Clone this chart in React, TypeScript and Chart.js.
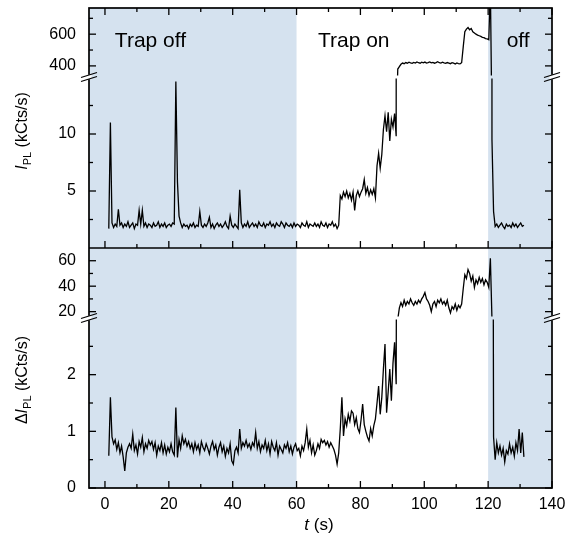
import React, { useEffect, useRef } from "react";
import { Chart, registerables } from "chart.js";

Chart.register(...registerables);

// ---- sampling grid of the traces (s) ----
const T0 = 1.2;
const DT = 0.5;

// ---- I_PL (kCts/s), one value per grid step ----
const iplValues = [
  1.7, 11.0, 2.2, 1.8, 2.1, 1.9, 3.4, 2.0, 2.2, 1.8,
  2.1, 1.9, 2.3, 1.8, 2.0, 2.2, 1.7, 2.1, 2.0, 3.3,
  2.1, 3.3, 1.9, 2.2, 1.8, 2.1, 2.0, 1.8, 2.2, 1.9,
  2.0, 2.3, 1.8, 2.1, 1.9, 2.2, 1.8, 2.0, 2.1, 1.9,
  2.2, 2.1, 14.6, 5.8, 2.8, 2.2, 1.8, 2.1, 1.9, 2.0,
  1.7, 2.1, 1.9, 2.2, 1.8, 2.0, 1.9, 3.2, 2.0, 1.8,
  2.1, 1.9, 2.2, 2.7, 1.8, 2.1, 1.7, 2.0, 2.2, 1.9,
  2.1, 1.8, 2.0, 2.3, 1.9, 1.7, 2.8, 2.0, 1.8, 2.1,
  1.9, 1.7, 5.1, 2.2, 1.8, 2.1, 1.9, 2.3, 1.8, 2.0,
  2.2, 1.9, 2.1, 1.8, 2.3, 2.0, 1.9, 2.2, 1.8, 2.1,
  2.0, 2.3, 1.9, 2.1, 1.8, 2.2, 2.0, 1.9, 2.3, 2.1,
  1.8, 2.2, 2.0, 1.9, 2.1, 1.8, 2.2, 1.9, 2.1, 2.0,
  1.8, 2.2, 2.0, 1.9, 2.3, 1.8, 2.1, 2.0, 1.9, 2.2,
  1.9, 2.1, 1.8, 2.3, 2.0, 1.9, 2.2, 1.8, 2.1, 2.0,
  2.3, 1.9, 2.1, 1.7, 2.0, 4.6, 4.3, 4.9, 4.5, 5.0,
  4.4, 4.8, 4.2, 4.9, 3.3, 4.6, 5.0, 4.5, 4.9, 5.2,
  6.0, 4.8, 5.3, 4.6, 5.1, 4.7, 5.2, 4.4, 7.2, 8.3,
  7.0, 8.2, 10.4, 11.6, 10.2, 11.9, 9.4, 11.3, 10.6, 11.8,
  9.8, 380, 396, 410, 418, 414, 421, 417, 423, 419,
  416, 422, 418, 425, 420, 417, 423, 419, 424, 418,
  421, 425, 419, 422, 417, 421, 426, 420, 418, 423,
  419, 416, 421, 418, 414, 420, 417, 412, 419, 415,
  413, 420, 520, 615, 632, 642, 628, 636, 615, 608,
  600, 594, 590, 586, 580, 578, 572, 570, 565, 900,
  9.5, 3.2, 1.9, 2.1, 1.8, 2.0, 2.2, 1.9, 1.7, 2.1,
  1.9, 2.0, 1.8, 2.2, 1.9, 2.1, 1.8, 2.0, 2.2, 1.9,
  2.0,
];

// ---- ΔI_PL (kCts/s), one value per grid step ----
const dIplValues = [
  0.57, 1.60, 0.90, 0.78, 0.85, 0.68, 0.80, 0.62, 0.74, 0.55,
  0.30, 0.62, 0.72, 0.78, 0.70, 0.95, 0.66, 0.76, 0.60, 0.82,
  0.72, 0.89, 0.64, 0.78, 0.70, 0.84, 0.76, 0.82, 0.68, 0.80,
  0.58, 0.74, 0.66, 0.80, 0.62, 0.76, 0.60, 0.72, 0.64, 0.78,
  0.64, 0.58, 1.42, 0.54, 0.85, 0.70, 0.92, 0.78, 0.86, 0.74,
  0.82, 0.70, 0.78, 0.64, 0.80, 0.68, 0.76, 0.62, 0.82, 0.72,
  0.66, 0.78, 0.70, 0.60, 0.74, 0.82, 0.68, 0.76, 0.58, 0.72,
  0.80, 0.64, 0.74, 0.56, 0.70, 0.62, 0.78, 0.48, 0.42, 0.66,
  0.72, 0.62, 1.04, 0.70, 0.80, 0.74, 0.84, 0.72, 0.78, 0.68,
  0.80, 0.74, 0.98, 0.70, 0.82, 0.64, 0.76, 0.70, 0.84, 0.66,
  0.78, 0.60, 0.82, 0.72, 0.66, 0.80, 0.58, 0.74, 0.68, 0.62,
  0.76, 0.70, 0.80, 0.64, 0.74, 0.60, 0.72, 0.78, 0.66, 0.70,
  0.57, 0.74, 0.66, 0.80, 1.04, 0.72, 0.84, 0.62, 0.76, 0.58,
  0.66, 0.78, 0.70, 0.86, 0.80, 0.84, 0.76, 0.82, 0.72, 0.80,
  0.74, 0.68, 0.58, 0.42, 0.62, 1.05, 1.60, 0.92, 1.22, 1.10,
  1.30, 1.18, 1.36, 1.32, 1.12, 1.24, 1.05, 0.98, 1.20, 1.48,
  1.12, 1.00, 0.90, 0.83, 1.05, 0.92, 1.10, 1.22, 1.50, 1.80,
  1.30, 1.60, 2.10, 2.54, 1.33, 1.70, 2.10, 1.54, 2.20, 2.57,
  1.83, 14, 23, 27, 24, 29, 25, 28, 26, 30,
  27, 25, 28, 26, 29, 27, 30, 32, 35, 30,
  28, 25, 20, 26, 28, 24, 29, 27, 30, 26,
  28, 25, 29, 23, 19, 24, 22, 26, 21, 25,
  23, 26, 38, 49, 46, 53, 50, 44, 48, 39,
  45, 42, 47, 43, 46, 41, 45, 43, 39, 62,
  14, 0.90, 0.50, 0.80, 0.62, 0.74, 0.58, 0.70, 0.46, 0.66,
  0.60, 0.78, 0.62, 0.72, 0.56, 0.80, 0.66, 1.04, 0.62, 0.98,
  0.55,
];

// ---- axes ----
const xRange = [-5, 140];
const xMajorTicks = [0, 20, 40, 60, 80, 100, 120, 140];
const xMinorTicks = [10, 30, 50, 70, 90, 110, 130];

const iplUpperRange = [330, 765];
const iplUpperTicks = [400, 600];
const iplUpperMinor = [500, 700];
const iplLowerRange = [0, 15];
const iplLowerTicks = [5, 10];
const iplLowerMinor = [2.5, 7.5, 12.5];

const dUpperRange = [15, 70];
const dUpperTicks = [20, 40, 60];
const dUpperMinor = [30, 50];
const dLowerRange = [0, 3];
const dLowerTicks = [0, 1, 2];
const dLowerMinor = [0.5, 1.5, 2.5];

// ---- shaded "trap off" intervals (s) and labels ----
const trapOffRanges = [
  [-5, 60],
  [120, 140],
];
const regionLabels = [
  { text: "Trap off", t: 3.1 },
  { text: "Trap on", t: 66.7 },
  { text: "off", t: 125.8 },
];
const regionLabelLevel = 520; // on the I_PL upper scale

const FONT = '"Liberation Sans", Arial, Helvetica, sans-serif';
const SHADE = "#d5e2ef";

function toPoints(values: number[]) {
  return values.map((v, i) => ({ x: T0 + DT * i, y: v }));
}

function drawRich(
  ctx: CanvasRenderingContext2D,
  parts: { t: string; font: string; dy?: number }[],
  cx: number,
  cy: number
) {
  let total = 0;
  const widths: number[] = [];
  for (const p of parts) {
    ctx.font = p.font;
    const w = ctx.measureText(p.t).width;
    widths.push(w);
    total += w;
  }
  let x = cx - total / 2;
  parts.forEach((p, i) => {
    ctx.font = p.font;
    ctx.fillText(p.t, x, cy + (p.dy || 0));
    x += widths[i];
  });
}

const decorPlugin = {
  id: "decor",
  beforeDatasetsDraw(chart: any) {
    const { ctx, chartArea: a, scales } = chart;
    const sx = scales.x;
    ctx.save();
    ctx.fillStyle = SHADE;
    for (const [s, e] of trapOffRanges) {
      const x0 = Math.max(a.left, sx.getPixelForValue(s));
      const x1 = Math.min(a.right, sx.getPixelForValue(e));
      ctx.fillRect(x0, a.top, x1 - x0, a.bottom - a.top);
    }
    ctx.restore();
  },
  afterDatasetsDraw(chart: any) {
    const { ctx, chartArea: a, scales } = chart;
    const sx = scales.x;
    const divider = scales.yIL.bottom;
    const line = (x1: number, y1: number, x2: number, y2: number) => {
      ctx.beginPath();
      ctx.moveTo(x1, y1);
      ctx.lineTo(x2, y2);
      ctx.stroke();
    };
    ctx.save();
    ctx.strokeStyle = "#000";
    ctx.lineWidth = 1.3;

    // x ticks (inward) at top, panel divider and bottom
    const xTick = (v: number, len: number) => {
      const px = sx.getPixelForValue(v);
      line(px, a.top, px, a.top + len);
      line(px, divider, px, divider - len);
      line(px, a.bottom, px, a.bottom - len);
    };
    xMajorTicks.forEach((v) => xTick(v, 7));
    xMinorTicks.forEach((v) => xTick(v, 4));

    // y ticks (inward), mirrored on the right side
    const yDefs: [string, number[], number[]][] = [
      ["yIU", iplUpperTicks, iplUpperMinor],
      ["yIL", iplLowerTicks, iplLowerMinor],
      ["yDU", dUpperTicks, dUpperMinor],
      ["yDL", dLowerTicks, dLowerMinor],
    ];
    for (const [id, major, minor] of yDefs) {
      const sc = scales[id];
      const tick = (v: number, len: number) => {
        const py = sc.getPixelForValue(v);
        line(a.left, py, a.left + len, py);
        line(a.right, py, a.right - len, py);
      };
      major.forEach((v) => tick(v, 7));
      minor.forEach((v) => tick(v, 4));
    }

    // frame + divider
    ctx.lineWidth = 1.7;
    ctx.strokeRect(a.left, a.top, a.right - a.left, a.bottom - a.top);
    line(a.left, divider, a.right, divider);

    // axis breaks
    const breaks = [scales.yIU.bottom, scales.yDU.bottom];
    for (const yb of breaks) {
      for (const xb of [a.left, a.right]) {
        ctx.fillStyle = "#fff";
        ctx.fillRect(xb - 2.5, yb - 2.2, 5, 4.4);
        ctx.lineWidth = 1.3;
        line(xb - 8, yb + 0.5, xb + 8, yb - 4.5);
        line(xb - 8, yb + 4.5, xb + 8, yb - 0.5);
      }
    }

    // region labels
    ctx.fillStyle = "#000";
    ctx.textAlign = "left";
    ctx.textBaseline = "alphabetic";
    ctx.font = `21px ${FONT}`;
    const ly = scales.yIU.getPixelForValue(regionLabelLevel);
    for (const r of regionLabels) {
      ctx.fillText(r.text, sx.getPixelForValue(r.t), ly);
    }

    // axis titles
    ctx.textBaseline = "middle";
    const main = `16px ${FONT}`;
    const ital = `italic 16px ${FONT}`;
    const sub = `11px ${FONT}`;
    ctx.save();
    ctx.translate(23, 131);
    ctx.rotate(-Math.PI / 2);
    drawRich(ctx, [
      { t: "I", font: ital },
      { t: "PL", font: sub, dy: 5 },
      { t: " (kCts/s)", font: main },
    ], 0, 0);
    ctx.restore();

    ctx.save();
    ctx.translate(23, 380);
    ctx.rotate(-Math.PI / 2);
    drawRich(ctx, [
      { t: "Δ", font: main },
      { t: "I", font: ital },
      { t: "PL", font: sub, dy: 5 },
      { t: " (kCts/s)", font: main },
    ], 0, 0);
    ctx.restore();

    drawRich(ctx, [
      { t: "t", font: `italic 17px ${FONT}` },
      { t: " (s)", font: `17px ${FONT}` },
    ], 319, 525);

    ctx.restore();
  },
};

function yAxis(range: number[], labels: number[], weight: number) {
  return {
    type: "linear" as const,
    position: "left" as const,
    stack: "left",
    stackWeight: weight,
    min: range[0],
    max: range[1],
    grid: { display: false, drawTicks: false },
    border: { display: false },
    ticks: {
      color: "#000",
      padding: 13,
      autoSkip: false,
      font: { family: FONT, size: 16 },
    },
    afterBuildTicks: (s: any) => {
      s.ticks = labels.map((v) => ({ value: v }));
    },
    afterFit: (s: any) => {
      s.width = 89;
      s.paddingTop = 0;
      s.paddingBottom = 0;
    },
  };
}

export default function App() {
  const ref = useRef<HTMLCanvasElement>(null);
  useEffect(() => {
    if (!ref.current) return;
    const lineStyle = {
      borderColor: "#000",
      borderWidth: 1.3,
      pointRadius: 0,
      tension: 0,
      fill: false,
    };
    const chart = new Chart(ref.current, {
      type: "line",
      data: {
        datasets: [
          { ...lineStyle, data: toPoints(iplValues), xAxisID: "x", yAxisID: "yIU", clip: { left: 0, right: 0, top: 0, bottom: -1.5 } },
          { ...lineStyle, data: toPoints(iplValues), xAxisID: "x", yAxisID: "yIL", clip: { left: 0, right: 0, top: -1.5, bottom: 0 } },
          { ...lineStyle, data: toPoints(dIplValues), xAxisID: "x", yAxisID: "yDU", clip: { left: 0, right: 0, top: 0, bottom: -1.5 } },
          { ...lineStyle, data: toPoints(dIplValues), xAxisID: "x", yAxisID: "yDL", clip: { left: 0, right: 0, top: -1.5, bottom: 0 } },
        ] as any,
      },
      options: {
        responsive: false,
        animation: false,
        events: [],
        layout: { padding: { top: 8, right: 19, bottom: 0, left: 0 } },
        plugins: { legend: { display: false }, tooltip: { enabled: false } },
        scales: {
          x: {
            type: "linear",
            position: "bottom",
            min: xRange[0],
            max: xRange[1],
            grid: { display: false, drawTicks: false },
            border: { display: false },
            ticks: {
              color: "#000",
              padding: 7,
              maxRotation: 0,
              autoSkip: false,
              font: { family: FONT, size: 16 },
            },
            afterBuildTicks: (s: any) => {
              s.ticks = xMajorTicks.map((v) => ({ value: v }));
            },
            afterFit: (s: any) => {
              s.height = 47;
              s.paddingLeft = 0;
              s.paddingRight = 0;
            },
          },
          // stacked from bottom to top
          yDL: yAxis(dLowerRange, dLowerTicks, 170),
          yDU: yAxis(dUpperRange, dUpperTicks, 70),
          yIL: yAxis(iplLowerRange, iplLowerTicks, 171),
          yIU: yAxis(iplUpperRange, iplUpperTicks, 69),
        } as any,
      },
      plugins: [decorPlugin],
    });
    return () => chart.destroy();
  }, []);

  return (
    <div style={{ position: "absolute", left: 0, top: 0, width: 571, height: 535, background: "#fff" }}>
      <canvas ref={ref} width={571} height={535} style={{ width: 571, height: 535, display: "block" }} />
    </div>
  );
}
